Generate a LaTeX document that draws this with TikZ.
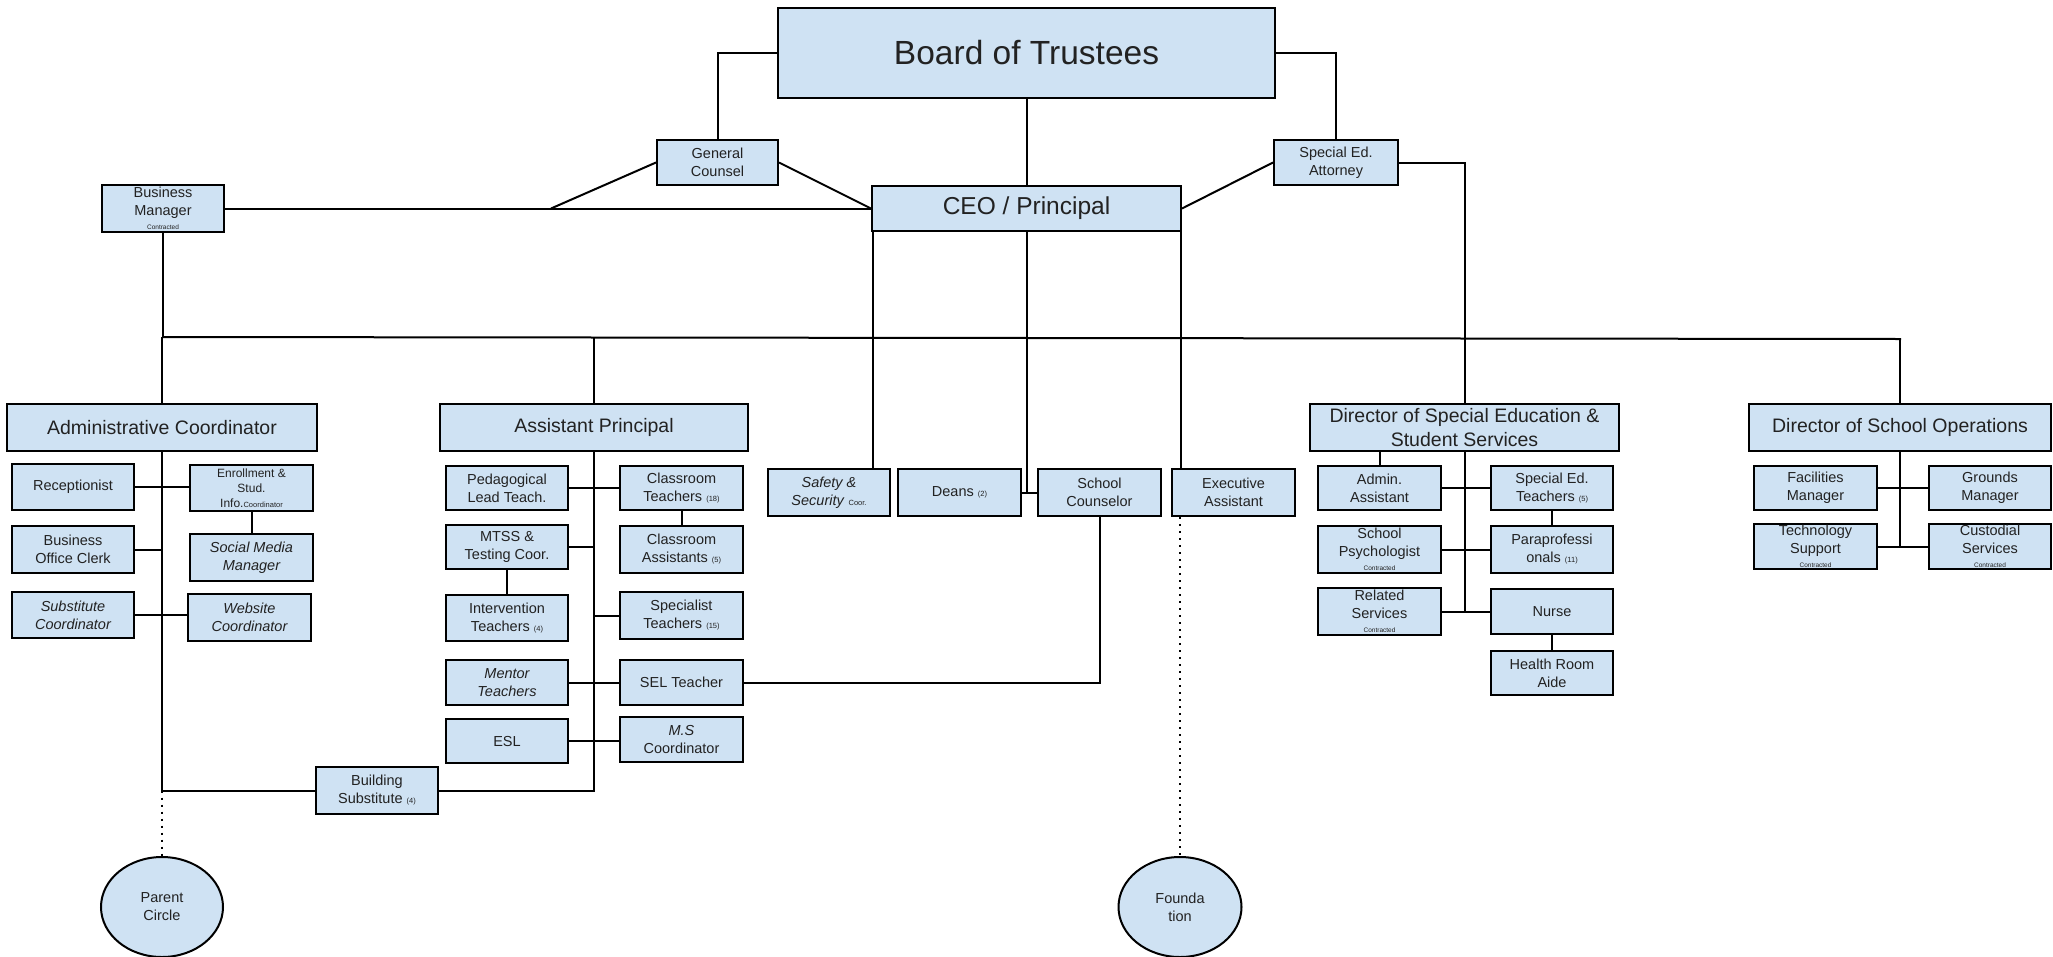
\documentclass[tikz,border=0pt]{standalone}
\usepackage{fontspec}
\setmainfont{Liberation Sans}
\usetikzlibrary{shapes.geometric}
\definecolor{boxblue}{HTML}{CFE2F3}
\definecolor{txt}{HTML}{222222}
\newcommand\fs[2]{\fontsize{#1}{#2}\selectfont}
\newcommand\mybox[7][]{\node[box,#1,minimum width={(#5-#3)*1pt},minimum height={(#6-#4)*1pt}] (#2) at ({(#3+#5)/2},{(#4+#6)/2}) {#7};}
\tikzset{
  box/.style={draw=black, line width=2pt, fill=boxblue, inner sep=0pt, align=center, text=txt, font=\fs{14.5}{18}},
  big/.style={font=\fs{19.5}{23.5}},
  oval/.style={ellipse, draw=black, line width=2pt, fill=boxblue, inner sep=0pt, align=center, text=txt, font=\fs{14.5}{18}},
  ln/.style={line width=2pt, line join=miter},
  dotl/.style={line width=2pt, dash pattern=on 2pt off 5pt}
}
\newcommand\sm[1]{{\fs{7.5}{9}#1}}
\begin{document}
\begin{tikzpicture}[x=1pt,y=-1pt]
\fill[white] (0,0) rectangle (2053,956);
\useasboundingbox (0,0) rectangle (2053,956);

% top level
\mybox[font=\fs{33.5}{38}]{bot}{778}{8}{1275}{98}{Board of Trustees}
\mybox{gc}{657}{140}{778}{185}{General\\Counsel}
\mybox[font=\fs{24.5}{28}]{ceo}{872}{186}{1181}{231}{CEO / Principal}
\mybox{sea}{1274}{140}{1398}{185}{Special Ed.\\Attorney}
\mybox{bm}{102}{185}{224}{232}{Business\\Manager\\[-4pt]{\fs{6.5}{7}Contracted}}

% second level heads
\mybox[big]{ac}{7}{404}{317}{451}{Administrative Coordinator}
\mybox[big]{ap}{440}{404}{748}{451}{Assistant Principal}
\mybox[big]{dsp}{1310}{404}{1619}{451}{Director of Special Education \&\\Student Services}
\mybox[big]{dso}{1749}{404}{2051}{451}{Director of School Operations}

% admin coordinator group
\mybox{rec}{12}{464}{134}{510}{Receptionist}
\mybox[font=\fs{12}{15}]{enr}{190}{465}{313}{511}{Enrollment \&\\Stud.\\Info.{\fs{7.5}{9}Coordinator}}
\mybox{boc}{12}{526}{134}{573}{Business\\Office Clerk}
\mybox{smm}{190}{534}{313}{581}{\itshape Social Media\\\itshape Manager}
\mybox{sub}{12}{592}{134}{638}{\itshape Substitute\\\itshape Coordinator}
\mybox{web}{188}{594}{311}{641}{\itshape Website\\\itshape Coordinator}

% assistant principal group
\mybox{ped}{446}{466}{568}{510}{Pedagogical\\Lead Teach.}
\mybox{ct}{620}{466}{743}{510}{Classroom\\Teachers \sm{(18)}}
\mybox{mtss}{446}{525}{568}{569}{MTSS \&\\Testing Coor.}
\mybox{ca}{620}{526}{743}{573}{Classroom\\Assistants \sm{(5)}}
\mybox{int}{446}{595}{568}{641}{Intervention\\Teachers \sm{(4)}}
\mybox{spec}{620}{592}{743}{639}{Specialist\\Teachers \sm{(15)}}
\mybox{men}{446}{660}{568}{705}{\itshape Mentor\\\itshape Teachers}
\mybox{sel}{620}{660}{743}{705}{SEL Teacher}
\mybox{esl}{446}{719}{568}{763}{ESL}
\mybox{msc}{620}{717}{743}{762}{\itshape M.S\\Coordinator}
\mybox{bsub}{316}{767}{438}{814}{Building\\Substitute \sm{(4)}}

% CEO direct reports
\mybox{saf}{768}{469}{890}{516}{\itshape Safety \&\\\textit{Security} \sm{Coor.}}
\mybox{dea}{898}{469}{1021}{516}{Deans \sm{(2)}}
\mybox{coun}{1038}{469}{1161}{516}{School\\Counselor}
\mybox{ea}{1172}{469}{1295}{516}{Executive\\Assistant}

% special education group
\mybox{aa}{1318}{466}{1441}{510}{Admin.\\Assistant}
\mybox{spt}{1491}{466}{1613}{510}{Special Ed.\\Teachers \sm{(5)}}
\mybox{psy}{1318}{526}{1441}{573}{School\\Psychologist\\[-4pt]{\fs{6.5}{7}Contracted}}
\mybox{para}{1491}{526}{1613}{573}{Paraprofessi\\onals \sm{(11)}}
\mybox{rel}{1318}{588}{1441}{635}{Related\\Services\\[-4pt]{\fs{6.5}{7}Contracted}}
\mybox{nur}{1491}{589}{1613}{634}{Nurse}
\mybox{hra}{1491}{651}{1613}{695}{Health Room\\Aide}

% school operations group
\mybox{fac}{1754}{466}{1877}{510}{Facilities\\Manager}
\mybox{gro}{1929}{466}{2051}{510}{Grounds\\Manager}
\mybox{tech}{1754}{524}{1877}{569}{Technology\\Support\\[-4pt]{\fs{6.5}{7}Contracted}}
\mybox{cus}{1929}{524}{2051}{569}{Custodial\\Services\\[-4pt]{\fs{6.5}{7}Contracted}}

% ovals
\node[oval, minimum width=122pt, minimum height=100pt] (pc) at (162,907) {Parent\\Circle};
\node[oval, minimum width=123pt, minimum height=100pt] (fd) at (1180,907) {Founda\\tion};

% helper coordinates
\coordinate (busL) at (162,337);
\coordinate (busR) at (1901,339);
\coordinate (gcj) at (551,208.5);

% top connectors
\draw[ln] (bot.west) -| (gc.north);
\draw[ln] (bot.east) -| (sea.north);
\draw[ln] (bot.south) -- (ceo.north);
\draw[ln] (gc.west) -- (gcj);
\draw[ln] (gc.east) -- (ceo.west);
\draw[ln] (bm.east) -- (ceo.west);
\draw[ln] (sea.west) -- (ceo.east);
\draw[ln] (sea.east) -| (dsp.north);

% bus
\draw[ln] (bm.south) -- (bm.south |- busL);
\draw[ln] (busL) -- (busR);
\draw[ln] (ac.north |- busL) -- (ac.north);
\draw[ln] (ap.north |- busL) -- (ap.north);
\draw[ln] (dso.north |- busR) -- (dso.north);

% CEO drops
\draw[ln] ([xshift=2pt]ceo.south west) -- ([xshift=2pt]ceo.south west |- saf.north);
\draw[ln] (ceo.south) -- (ceo.south |- dea.east) -- (dea.east);
\draw[ln] (ceo.south |- coun.west) -- (coun.west);
\draw[ln] ([xshift=-1pt]ceo.south east) -- ([xshift=-1pt]ceo.south east |- ea.north);
\draw[dotl] (fd.north |- ea.south) -- (fd.north);
\draw[ln] (coun.south) |- (sel.east);

% admin coordinator connectors
\draw[ln] (ac.south) -- (ac.south |- bsub.west) -- (bsub.west);
\draw[ln] (rec.east) -- (rec.east -| enr.west);
\draw[ln] (enr.south) -- (enr.south |- smm.north);
\draw[ln] (boc.east) -- (boc.east -| ac.south);
\draw[ln] (sub.east) -- (sub.east -| web.west);
\draw[dotl] (pc.north |- bsub.west) -- (pc.north);

% assistant principal connectors
\draw[ln] (ap.south) -- (ap.south |- bsub.east) -- (bsub.east);
\draw[ln] (ped.east) -- (ped.east -| ct.west);
\draw[ln] (ct.south) -- (ct.south |- ca.north);
\draw[ln] (mtss.east) -- (mtss.east -| ap.south);
\draw[ln] (mtss.south) -- (mtss.south |- int.north);
\draw[ln] (spec.west) -- (spec.west -| ap.south);
\draw[ln] (men.east) -- (sel.west);
\draw[ln] (esl.east) -- (esl.east -| msc.west);

% special education connectors
\draw[ln] (dsp.south) -- (dsp.south |- rel.east);
\draw[ln] (aa.north) -- (aa.north |- dsp.south);
\draw[ln] (aa.east) -- (aa.east -| spt.west);
\draw[ln] (spt.south) -- (spt.south |- para.north);
\draw[ln] (psy.east) -- (psy.east -| para.west);
\draw[ln] (rel.east) -- (rel.east -| nur.west);
\draw[ln] (nur.south) -- (nur.south |- hra.north);

% school operations connectors
\draw[ln] (dso.south) -- (dso.south |- tech.east);
\draw[ln] (fac.east) -- (fac.east -| gro.west);
\draw[ln] (tech.east) -- (tech.east -| cus.west);
\end{tikzpicture}
\end{document}
